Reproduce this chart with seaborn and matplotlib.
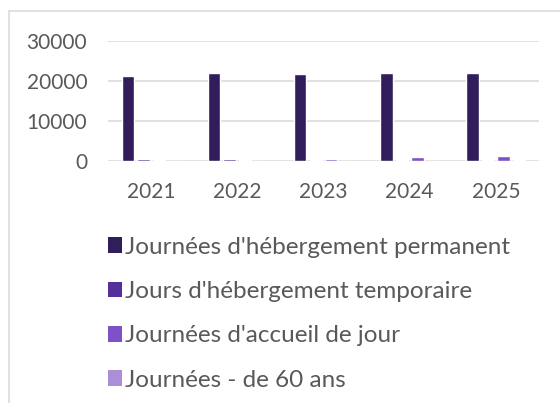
import numpy as np
import pandas as pd
import seaborn as sns
import matplotlib.pyplot as plt
from matplotlib.patches import Patch
from matplotlib.lines import Line2D

YEARS = ['2021', '2022', '2023', '2024', '2025']

SERIES = [
    "Journées d'hébergement permanent",
    "Jours d'hébergement temporaire",
    "Journées d'accueil de jour",
    "Journées - de 60 ans",
]

permanent = [21200, 21850, 21600, 22000, 21850]
temporaire = [550, 400, 250, 250, 280]
accueil = [60, 300, 450, 900, 1150]
moins_60 = [0, 0, 0, 0, 150]

COLORS = ['#311d5b', '#56309a', '#7d52c7', '#ab8ed8']
TEXT = '#595959'

rows = []
for name, vals in zip(SERIES, [permanent, temporaire, accueil, moins_60]):
    for yr, v in zip(YEARS, vals):
        rows.append({'Année': yr, 'Série': name, 'Valeur': v})
df = pd.DataFrame(rows)

sns.set_style('white')
plt.rcParams['font.family'] = ['Lato', 'DejaVu Sans']

fig = plt.figure(figsize=(5.6, 4.03), dpi=100)
ax = fig.add_axes([108 / 560, 1 - 160.7 / 403, 431 / 560, 120 / 403])

sns.barplot(data=df, x='Année', y='Valeur', hue='Série', order=YEARS,
            hue_order=SERIES, palette=COLORS, width=0.72, gap=0.2,
            legend=False, ax=ax, errorbar=None, saturation=1)

ax.set_ylim(0, 30000)
ax.set_yticks([0, 10000, 20000, 30000])
ax.set_yticklabels(['0', '10000', '20000', '30000'])
ax.set_xlim(-0.5, 4.5)
ax.yaxis.grid(True, color='#d9d9d9', linewidth=1.1)
ax.set_axisbelow(True)
for s in ax.spines.values():
    s.set_visible(False)
ax.tick_params(axis='y', length=0, pad=15, labelsize=15, labelcolor=TEXT)
ax.tick_params(axis='x', length=0, pad=15, labelsize=15, labelcolor=TEXT)
ax.set_xlabel('')
ax.set_ylabel('')

handles = [Patch(facecolor=c, edgecolor='none') for c in COLORS]
fig.legend(handles, SERIES, loc='upper left', bbox_to_anchor=(98 / 560, 1 - 227 / 403),
           frameon=False, fontsize=17.5, labelcolor=TEXT, handlelength=0.6,
           handleheight=0.6, handletextpad=0.12, labelspacing=0.96, borderaxespad=0)

fig.add_artist(Line2D([8.5 / 560, 1], [1 - 10.5 / 403, 1 - 10.5 / 403],
                      transform=fig.transFigure, color='#d9d9d9', linewidth=1.1))
fig.add_artist(Line2D([8.5 / 560, 8.5 / 560], [0, 1 - 10.5 / 403],
                      transform=fig.transFigure, color='#d9d9d9', linewidth=1.1))

fig.savefig('out.png', dpi=100, facecolor='white')
